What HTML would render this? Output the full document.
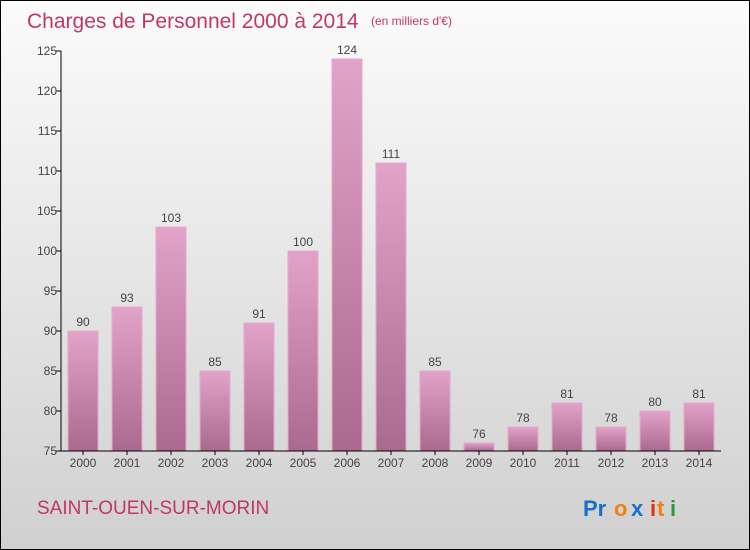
<!DOCTYPE html>
<html><head><meta charset="utf-8"><style>
body{margin:0}
#c{position:relative;width:748px;height:548px;border:1px solid #000;background:linear-gradient(#fbfbfb,#d0d0d0);font-family:"Liberation Sans",sans-serif;overflow:hidden}
</style></head><body>
<div id="c">
<svg width="748" height="548" style="position:absolute;left:0;top:0">
<defs><linearGradient id="g" x1="0" y1="0" x2="0" y2="1"><stop offset="0" stop-color="#e2a3c8"/><stop offset="1" stop-color="#aa6a8e"/></linearGradient></defs>
<text x="26" y="27" font-size="21" fill="#c2366a">Charges de Personnel 2000 à 2014</text>
<text x="370" y="24" font-size="12" fill="#c2366a">(en milliers d'€)</text>
<text x="36" y="513" font-size="19" fill="#c2366a">SAINT-OUEN-SUR-MORIN</text>
<g font-size="22" font-weight="bold"><text x="582" y="515" fill="#1a6fc9">Pr</text><text x="613" y="515" fill="#f08010">o</text><text x="630" y="515" fill="#1a6fc9">x</text><text x="649" y="515" fill="#e03010">i</text><text x="656" y="515" fill="#f08010">t</text><text x="669" y="515" fill="#2a9a3a">i</text></g>
<g id="plot"></g>
</svg>
</div>
<script>
const categories=["2000","2001","2002","2003","2004","2005","2006","2007","2008","2009","2010","2011","2012","2013","2014"];
const values=[90,93,103,85,91,100,124,111,85,76,78,81,78,80,81];
const ticks=[75,80,85,90,95,100,105,110,115,120,125];
const ns="http://www.w3.org/2000/svg";
const g=document.getElementById("plot");
const y=v=>450-(v-75)*8;
const x=i=>82+i*44;
function el(t,a){const e=document.createElementNS(ns,t);for(const k in a)e.setAttribute(k,a[k]);g.appendChild(e);return e;}
values.forEach((v,i)=>{
const r=el("rect",{x:x(i)-15,y:y(v),width:30,height:450-y(v),fill:"url(#g)",stroke:"#e6a8cc","stroke-width":1});


const t=el("text",{x:x(i),y:y(v)-5,"text-anchor":"middle","font-size":12,fill:"#444"});t.textContent=v;


const c=el("text",{x:x(i),y:466,"text-anchor":"middle","font-size":12,fill:"#444"});c.textContent=categories[i];


const tk=el("line",{x1:x(i),x2:x(i),y1:450,y2:454,stroke:"#000"});


});
ticks.forEach(v=>{
const l=el("line",{x1:55,x2:60,y1:y(v),y2:y(v),stroke:"#000"});


const t=el("text",{x:56,y:y(v)+4,"text-anchor":"end","font-size":12,fill:"#444"});t.textContent=v;


});
const ya=el("line",{x1:60,x2:60,y1:50,y2:450,stroke:"#000"});


const xa=el("line",{x1:60,x2:720,y1:450,y2:450,stroke:"#000"});


</script>
</body></html>
